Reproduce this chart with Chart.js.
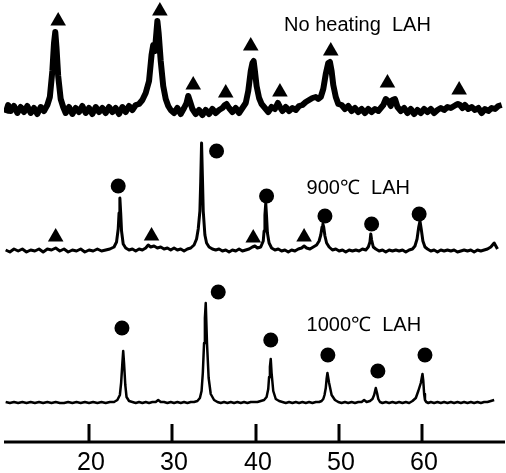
<!DOCTYPE html>
<html>
<head>
<meta charset="utf-8">
<script src="https://cdn.jsdelivr.net/npm/chart.js@4/dist/chart.umd.min.js"></script>
<style>
html,body{margin:0;padding:0;background:#fff;}
#wrap{width:506px;height:473px;}
</style>
</head>
<body>
<div id="wrap"><canvas id="c" width="506" height="473"></canvas></div>
<script>
// ---- DATA (2θ in degrees, intensity in arbitrary units above each trace's baseline) ----
const tickLabels = [20, 30, 40, 50, 60];
const traceNames = ["No heating  LAH", "900\u2103  LAH", "1000\u2103  LAH"];
const traceOffsets = [330, 190, 38];

const noHeatX = [10.0,10.3,10.6,11.0,11.4,11.8,12.2,12.6,13.0,13.4,13.8,14.2,14.6,15.0,15.3,15.6,15.8,15.95,16.1,16.3,16.6,16.9,17.2,17.6,18.0,18.4,18.8,19.2,19.6,20.0,20.4,20.8,21.2,21.6,22.0,22.4,22.8,23.2,23.6,24.0,24.4,24.8,25.2,25.6,26.0,26.4,26.8,27.2,27.5,27.7,27.9,28.1,28.2,28.35,28.6,28.9,29.2,29.5,29.8,30.2,30.6,31.0,31.4,31.7,31.9,32.1,32.4,32.8,33.2,33.6,34.0,34.4,34.8,35.2,35.6,36.0,36.3,36.5,36.8,37.2,37.6,38.0,38.4,38.8,39.1,39.4,39.6,39.75,39.9,40.1,40.4,40.7,41.1,41.5,41.9,42.3,42.65,42.9,43.2,43.6,44.0,44.4,44.8,45.2,45.6,46.0,46.4,46.8,47.2,47.5,47.8,48.1,48.4,48.7,48.9,49.1,49.3,49.6,49.9,50.3,50.7,51.1,51.5,51.9,52.3,52.7,53.1,53.5,53.9,54.3,54.7,55.0,55.3,55.6,55.9,56.2,56.4,56.7,57.0,57.4,57.8,58.2,58.6,59.0,59.4,59.8,60.2,60.6,61.0,61.4,61.8,62.2,62.6,63.0,63.4,63.8,64.0,64.25,64.5,64.8,65.1,65.5,65.9,66.3,66.7,67.1,67.5,67.9,68.3,68.7,69.1,69.5,69.9];
const noHeatY = [-2,6,0,5,-2,4,-1,5,-2,3,-3,4,0,6,14,40,68,79,63,35,12,4,-2,4,-3,3,-1,5,-2,3,-3,4,-1,3,-2,4,-1,3,-3,4,-1,5,1,6,7,11,18,30,56,66,60,80,90,78,50,25,12,5,1,-2,3,-3,3,8,15,10,2,-3,1,-4,1,-3,2,-2,1,3,6,7,3,-1,3,-2,3,8,20,40,48,50,40,25,13,7,3,-1,4,2,8,4,0,4,0,3,1,5,6,9,11,13,14,12,14,22,37,48,49,40,26,14,7,6,2,5,0,3,-1,2,-2,2,-1,2,0,3,6,12,10,5,11,12,4,0,3,-2,2,-3,1,-2,2,-1,2,-2,1,3,1,4,3,5,6,7,6,3,6,2,4,1,3,-2,2,0,3,2,5,6];

const h900X = [10.0,10.5,11.0,11.5,12.0,12.5,13.0,13.5,14.0,14.5,15.0,15.5,16.0,16.5,17.0,17.5,18.0,18.5,19.0,19.5,20.0,20.5,21.0,21.5,22.0,22.5,23.0,23.3,23.5,23.6,23.7,23.8,23.9,24.1,24.4,24.8,25.2,25.6,26.0,26.4,26.8,27.1,27.4,27.8,28.2,28.6,29.0,29.4,29.8,30.2,30.6,31.0,31.4,31.8,32.2,32.6,32.9,33.1,33.3,33.4,33.5,33.6,33.7,33.9,34.1,34.4,34.8,35.2,35.6,36.0,36.4,36.8,37.2,37.6,38.0,38.4,38.8,39.2,39.6,39.9,40.2,40.6,40.9,41.0,41.1,41.2,41.3,41.4,41.6,41.9,42.3,42.7,43.1,43.5,43.9,44.3,44.7,45.1,45.5,45.8,46.1,46.5,46.9,47.3,47.6,47.8,47.95,48.05,48.15,48.3,48.5,48.8,49.2,49.6,50.0,50.4,50.8,51.2,51.6,52.0,52.4,52.8,53.2,53.5,53.7,53.8,53.9,54.1,54.4,54.8,55.2,55.6,56.0,56.4,56.8,57.2,57.6,58.0,58.4,58.8,59.1,59.35,59.55,59.7,59.85,60.05,60.3,60.6,61.0,61.4,61.8,62.2,62.6,63.0,63.4,63.8,64.2,64.6,65.0,65.4,65.8,66.2,66.6,67.0,67.4,67.8,68.2,68.6,69.0,69.3,69.5,69.7,69.9];
const h900Y = [1,-1,2,0,2,-1,1,0,2,-1,2,1,3,0,2,-1,1,0,2,-1,1,0,2,0,1,2,4,9,22,38,53,38,20,7,3,1,2,0,2,1,3,6,4,5,3,4,2,3,1,3,1,2,0,2,3,6,12,22,40,70,108,75,40,16,8,4,2,1,2,0,1,-1,1,0,2,0,1,2,4,5,3,4,10,20,36,48,34,18,8,3,1,2,0,1,-1,1,0,2,3,5,3,2,4,6,10,16,24,27,24,15,8,4,1,2,0,1,-1,1,0,1,0,2,1,4,9,17,11,4,2,0,1,-1,1,0,1,0,1,-1,1,2,5,12,24,30,22,10,4,2,0,1,-1,1,0,1,0,1,-1,0,1,0,1,-1,1,0,1,2,4,8,2];

const h1000X = [10.0,10.5,11.0,11.5,12.0,12.5,13.0,13.5,14.0,14.5,15.0,15.5,16.0,16.5,17.0,17.5,18.0,18.5,19.0,19.5,20.0,20.5,21.0,21.5,22.0,22.5,23.0,23.4,23.7,23.85,24.0,24.1,24.2,24.35,24.5,24.8,25.2,25.6,26.0,26.4,26.8,27.2,27.6,28.0,28.3,28.6,29.0,29.4,29.8,30.2,30.6,31.0,31.4,31.8,32.2,32.6,33.0,33.3,33.5,33.65,33.8,33.9,34.0,34.15,34.35,34.6,35.0,35.4,35.8,36.2,36.6,37.0,37.4,37.8,38.2,38.6,39.0,39.4,39.8,40.2,40.6,41.0,41.3,41.5,41.6,41.7,41.8,41.9,42.1,42.4,42.8,43.2,43.6,44.0,44.4,44.8,45.2,45.6,46.0,46.4,46.8,47.2,47.6,47.9,48.1,48.25,48.4,48.5,48.6,48.8,49.1,49.5,49.9,50.3,50.7,51.1,51.5,51.9,52.3,52.7,53.0,53.3,53.7,54.0,54.2,54.4,54.55,54.7,54.9,55.2,55.6,56.0,56.4,56.8,57.2,57.6,58.0,58.4,58.8,59.2,59.5,59.8,60.0,60.1,60.2,60.3,60.45,60.7,61.0,61.4,61.8,62.2,62.6,63.0,63.4,63.8,64.2,64.6,65.0,65.4,65.8,66.2,66.6,67.0,67.4,67.8,68.2,68.6,69.0,69.4,69.7,69.9];
const h1000Y = [1,0,1,0,1,0,1,0,1,0,1,0,1,0,0,1,0,1,0,1,0,1,0,1,0,1,1,3,8,20,40,52,40,18,6,2,1,0,1,0,1,0,1,1,3,1,1,0,1,0,1,0,1,0,1,1,2,5,12,30,60,85,100,60,25,9,3,1,0,1,0,1,0,1,0,1,0,1,1,1,2,3,6,14,26,36,44,30,12,4,2,1,0,1,0,1,0,1,0,1,0,1,1,2,4,8,15,24,30,20,8,3,1,0,1,0,1,0,1,1,3,1,2,4,8,15,10,4,1,0,1,0,1,0,1,0,1,0,2,5,12,20,29,22,9,3,1,0,1,0,1,0,1,0,1,0,1,0,1,0,1,0,1,0,1,1,2,3];

// markers: 2θ position and level (same units as the plotted traces)
const triX = [16.3,28.5,32.5,36.4,39.4,42.9,49.0,55.8,64.4, 16.0,27.5,39.7,45.8];
const triY = [420,430,356,348,395,349,390,358,351, 204,205,203,204];
const circX = [23.5,35.3,41.3,48.3,53.9,59.6, 23.95,35.5,41.8,48.65,54.65,60.3];
const circY = [255,290,245,225,217,227, 113,149,101,86,70,86];

// label anchor (2θ, level)
const labelX = [43.4, 46.1, 46.1];
const labelY = [416, 253, 116];

// ---- build ----
function series(xs, ys, off){ return xs.map((x,i)=>({x:x, y:ys[i]+off})); }

const axisPlugin = {
  id:'axisPlugin',
  afterDraw(chart){
    const ctx = chart.ctx, xs = chart.scales.x, ys = chart.scales.y, ca = chart.chartArea;
    ctx.save();
    ctx.strokeStyle = '#000'; ctx.fillStyle = '#000';
    const yAxis = ca.bottom + 1;
    ctx.lineWidth = 3;
    ctx.beginPath(); ctx.moveTo(ca.left, yAxis); ctx.lineTo(ca.right, yAxis); ctx.stroke();
    ctx.font = "25px 'Liberation Sans Narrow', 'Liberation Sans', Arial, sans-serif";
    ctx.textAlign = 'center'; ctx.textBaseline = 'alphabetic';
    tickLabels.forEach(v=>{
      const px = Math.round(xs.getPixelForValue(v));
      ctx.lineWidth = 3;
      ctx.beginPath(); ctx.moveTo(px, yAxis); ctx.lineTo(px, yAxis-18); ctx.stroke();
      ctx.fillText(String(v), px+2, 470);
    });
    ctx.font = "20px 'Liberation Sans Narrow', 'Liberation Sans', Arial, sans-serif";
    ctx.textAlign = 'left'; ctx.textBaseline = 'middle';
    traceNames.forEach((t,i)=>{
      ctx.fillText(t, xs.getPixelForValue(labelX[i]), ys.getPixelForValue(labelY[i]));
    });
    ctx.restore();
  }
};

new Chart(document.getElementById('c'), {
  type:'line',
  data:{
    datasets:[
      {data:series(noHeatX,noHeatY,traceOffsets[0]), borderColor:'#000', borderWidth:6, pointRadius:0, tension:0, borderJoinStyle:'round'},
      {data:series(h900X,h900Y,traceOffsets[1]), borderColor:'#000', borderWidth:3, pointRadius:0, tension:0, borderJoinStyle:'round'},
      {data:series(h1000X,h1000Y,traceOffsets[2]), borderColor:'#000', borderWidth:2.5, pointRadius:0, tension:0, borderJoinStyle:'round'},
      {data:triX.map((x,i)=>({x:x,y:triY[i]})), showLine:false, pointStyle:'triangle', pointRadius:9, backgroundColor:'#000', borderColor:'#000', borderWidth:0},
      {data:circX.map((x,i)=>({x:x,y:circY[i]})), showLine:false, pointStyle:'circle', pointRadius:7.5, backgroundColor:'#000', borderColor:'#000', borderWidth:0}
    ]
  },
  options:{
    responsive:false, animation:false, devicePixelRatio:1,
    layout:{autoPadding:false, padding:{left:4,right:1,top:0,bottom:32}},
    plugins:{legend:{display:false}, tooltip:{enabled:false}},
    scales:{
      x:{type:'linear', min:9.8, max:69.9, display:false},
      y:{type:'linear', min:0, max:441, display:false}
    }
  },
  plugins:[axisPlugin]
});
</script>
</body>
</html>
